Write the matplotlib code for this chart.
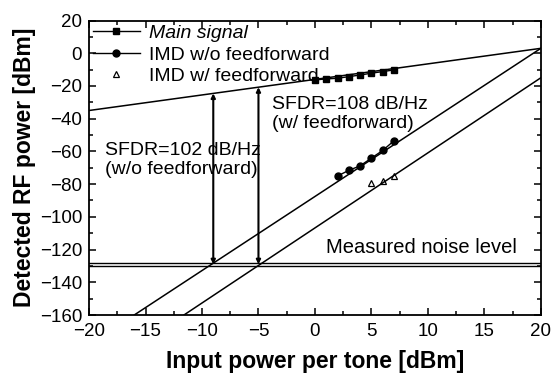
import numpy as np
import matplotlib
matplotlib.use("Agg")
import matplotlib.pyplot as plt
from matplotlib.ticker import MultipleLocator

plt.rcParams['font.family'] = ['Liberation Sans', 'DejaVu Sans']

# Measured data
x_main = [0, 1, 2, 3, 4, 5, 6, 7]
y_main = [-16.3, -15.7, -15.3, -14.3, -13.3, -12.2, -11.2, -10.2]
x_imd_wo = [2, 3, 4, 5, 6, 7]
y_imd_wo = [-75.0, -71.6, -68.8, -64.1, -59.4, -53.5]
x_imd_w = [5, 6, 7]
y_imd_w = [-79.3, -77.9, -74.9]

# Fitted lines (endpoints)
fit_main_x = [-20, 20]
fit_main_y = [-35, 3]
fit_wo_x = [-16, 20]
fit_wo_y = [-160, 3]
fit_w_x = [-11.6, 20]
fit_w_y = [-160, -15]

noise_levels = [-128, -130]
sfdr_x = [-9, -5]
sfdr_labels = ["SFDR=102 dB/Hz\n(w/o feedforward)", "SFDR=108 dB/Hz\n(w/ feedforward)"]

fig = plt.figure(figsize=(5.53, 3.80), dpi=100)
ax = fig.add_axes([0.161, 0.171, 0.817, 0.775])

lw = 1.1
ax.plot(fit_main_x, fit_main_y, color='black', lw=lw)
ax.plot(fit_wo_x, fit_wo_y, color='black', lw=lw)
ax.plot(fit_w_x, fit_w_y, color='black', lw=lw)
for nl in noise_levels:
    ax.axhline(nl, color='black', lw=1.0)

ax.plot(x_main, y_main, '-s', color='black', ms=4.5, lw=1.0, label='Main signal')
ax.plot(x_imd_wo, y_imd_wo, '-o', color='black', ms=5, lw=1.0, label='IMD w/o feedforward')
ax.plot(x_imd_w, y_imd_w, '^', color='black', mfc='none', ms=5, mew=0.9, lw=0,
        label='IMD w/ feedforward')

noise_mid = np.mean(noise_levels)
for xs in sfdr_x:
    ytop = np.interp(xs, fit_main_x, fit_main_y)
    ax.annotate('', xy=(xs, ytop), xytext=(xs, noise_mid),
                arrowprops=dict(arrowstyle='<|-|>', color='black', lw=1.5,
                                mutation_scale=6, shrinkA=0, shrinkB=0))

fs = 14
ax.text(-18.6, -65.5, sfdr_labels[0], fontsize=fs, va='center', ha='left', linespacing=1.15)
ax.text(-3.8, -37, sfdr_labels[1], fontsize=fs, va='center', ha='left', linespacing=1.15)
ax.text(0.95, -119, "Measured noise level", fontsize=fs + 0.5, va='center', ha='left')

ax.set_xlim(-20, 20)
ax.set_ylim(-160, 20)
ax.xaxis.set_major_locator(MultipleLocator(5))
ax.xaxis.set_minor_locator(MultipleLocator(2.5))
ax.yaxis.set_major_locator(MultipleLocator(20))
ax.yaxis.set_minor_locator(MultipleLocator(10))
ax.tick_params(which='both', direction='in', top=True, right=True, labelsize=13.5, width=1.1)
ax.tick_params(which='major', length=5)
ax.tick_params(which='minor', length=3)
ax.tick_params(axis='x', which='major', pad=6)
ax.tick_params(axis='y', which='major', pad=5)
for s in ax.spines.values():
    s.set_linewidth(1.3)

ax.set_xlabel("Input power per tone [dBm]", fontsize=16.5, fontweight='bold', labelpad=7)
ax.set_ylabel("Detected RF power [dBm]", fontsize=16.5, fontweight='bold', labelpad=3)

leg = ax.legend(loc='upper left', frameon=False, fontsize=fs, handlelength=2.4,
                handletextpad=0.5, labelspacing=0.2, borderaxespad=0.1, borderpad=0.1)
leg.get_texts()[0].set_fontstyle('italic')

fig.savefig('out.png', dpi=100)
